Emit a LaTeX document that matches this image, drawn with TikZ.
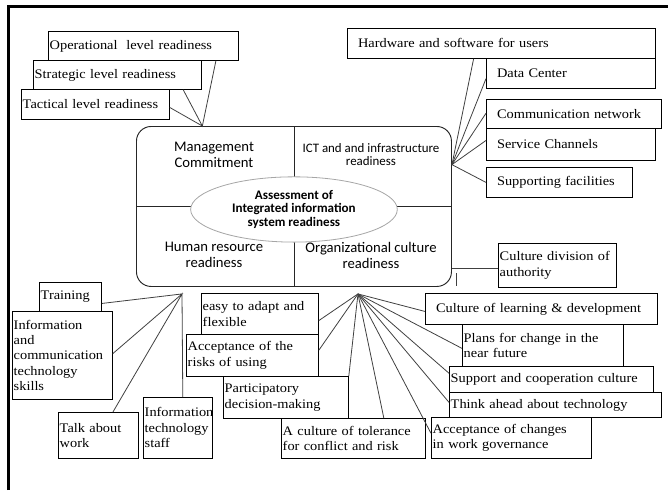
\documentclass[tikz,border=0pt]{standalone}
\usepackage{fontspec}
\setmainfont{Liberation Serif}[FakeStretch=1.1]
\newfontfamily\calibri{Carlito}
\usetikzlibrary{calc}
\usetikzlibrary{shapes.geometric}

\begin{document}
\begin{tikzpicture}[
		x=0.75pt, y=-0.75pt,
		leaf/.style={
			draw=black, fill=white, line width=0.6pt,
			anchor=north west, inner xsep=1pt, inner ysep=1pt,
			align=left, font=\fontsize{9.8}{11.6}\selectfont
			},
		leafpad/.style={leaf, inner xsep=8pt},
		link/.style={line width=0.6pt, color=black!75},
		quad/.style={align=center, font=\calibri\fontsize{11}{12}\selectfont},
		frame/.style={line width=2.25pt, color=black}
		]

		\useasboundingbox (0,0) rectangle (668,490);
		\draw[frame] (8,490) -- (8,6.5) -- (668,6.5);

		% central block
		\node[draw=black!85, line width=0.7pt, rounded corners=11pt, anchor=north west,
			minimum width=236.25pt, minimum height=120pt] (big) at (136,126) {};
		\draw[line width=0.6pt, black!85] (big.north) -- (big.south) (big.west) -- (big.east);
		\node[draw=black!35, fill=white, ellipse, line width=0.6pt, minimum width=155pt, minimum height=41pt,
			align=center, font=\calibri\bfseries\fontsize{9.8}{9.8}\selectfont] (core) at ($(big.center)+(0,3)$)
			{Assessment of\\Integrated information\\system readiness};
		\node[quad] (mgmt) at ($(big.north west)+(78,29)$) {Management\\Commitment};
		\node[quad, font=\calibri\fontsize{9.7}{9.8}\selectfont] (ict) at ($(big.north west)+(235,29)$) {ICT and and infrastructure\\readiness};
		\node[quad] (hr) at ($(big.north west)+(78,129)$) {Human resource\\readiness};
		\node[quad] (org) at ($(big.north west)+(235,129)$) {Organizational culture\\readiness};

		% management levels
		\node[leaf, minimum width=142.5pt, minimum height=21.75pt, text width=140.5pt] (oper) at (48,31) {Operational~ level readiness};
		\node[leaf, minimum width=126pt, minimum height=21.75pt, text width=124pt] (strat) at (33,60) {Strategic level readiness};
		\node[leaf, minimum width=111pt, minimum height=22.5pt, text width=109pt] (tact) at (21,89) {Tactical level readiness};

		\coordinate (mgmthub) at ($(big.north west)!0.21!(big.north east)$);
		\draw[link] ($(oper.south west)!0.88!(oper.south east)$) -- (mgmthub) -- ($(strat.south west)!0.89!(strat.south east)$);
		\draw[link] ($(tact.north east)!0.6!(tact.south east)$) -- (mgmthub);

		% ict
		\node[leafpad, minimum width=231pt, minimum height=22.5pt, text width=215pt] (hw) at (347,28) {Hardware and software for users};
		\node[leafpad, minimum width=126.75pt, minimum height=22.5pt, text width=110.75pt] (dc) at (486,58) {Data Center};
		\node[leafpad, minimum width=131.25pt, minimum height=21.75pt, text width=115.25pt] (comm) at (486,99) {Communication network};
		\node[leafpad, minimum width=126.75pt, minimum height=24pt, text width=110.75pt] (serv) at (486,128) {Service Channels};
		\node[leafpad, minimum width=109.5pt, minimum height=22.5pt, text width=93.5pt] (supp) at (486,167) {Supporting facilities};

		\coordinate (icthub) at ($(big.north east)!0.24!(big.south east)$);
		\draw[link] ($(hw.south west)!0.41!(hw.south east)$) -- (icthub);
		\foreach \n/\f in {dc/0.67, comm/0.48, serv/0.38, supp/0.5}
			\draw[link] ($(\n.north west)!\f!(\n.south west)$) -- (icthub);

		% organizational culture
		\node[leaf, minimum width=88.5pt, minimum height=33pt, text width=86.5pt] (cda) at (498,243) {Culture division of\\authority};
		\coordinate (cdaend) at ($(cda.north west)!0.57!(cda.south west)$);
		\draw[link] (cdaend) -- (cdaend -| big.east);
		\draw[link] ($(big.south east)+(4,-1)$) -- ($(big.south east)+(4,-14)$);

		\node[leafpad, minimum width=174pt, minimum height=23.25pt, text width=158pt] (learn) at (425,293) {Culture of learning \& development};
		\node[leaf, minimum width=120.75pt, minimum height=31.5pt, text width=118.75pt] (plans) at (462,324) {Plans for change in the\\near future};
		\node[leaf, minimum width=153pt, minimum height=19.5pt, text width=151pt] (supco) at (449,366) {Support and cooperation culture};
		\node[leaf, minimum width=159pt, minimum height=18.75pt, text width=157pt] (think) at (449,392) {Think ahead about technology};
		\node[leaf, minimum width=120pt, minimum height=30.75pt, text width=118pt] (accch) at (431,417) {Acceptance of changes\\in work governance};
		\node[leaf, minimum width=108pt, minimum height=30pt, text width=106pt] (toler) at (281,418) {A culture of tolerance\\for conflict and risk};
		\node[leaf, minimum width=93.75pt, minimum height=31.5pt, text width=91.75pt] (partic) at (223,376) {Participatory\\decision-making};
		\node[leaf, minimum width=99pt, minimum height=31.5pt, text width=97pt] (risks) at (186,334) {Acceptance of the\\risks of using};
		\node[leaf, minimum width=87.75pt, minimum height=30.75pt, text width=85.75pt] (easy) at (201,293) {easy to adapt and\\flexible};

		\coordinate (orghub) at ($(big.south)+(64,7)$);
		\foreach \n/\f in {learn/0.58, plans/0.57, supco/0.27, think/0.4, accch/0.39}
			\draw[link] (orghub) -- ($(\n.north west)!\f!(\n.south west)$);
		\foreach \n/\f in {easy/0.66, risks/0.38}
			\draw[link] (orghub) -- ($(\n.north east)!\f!(\n.south east)$);
		\draw[link] (orghub) -- ($(toler.north west)!0.71!(toler.north east)$);
		\draw[link] (orghub) -- (partic.north east);

		% human resource
		\node[leaf, minimum width=46.5pt, minimum height=21.75pt, text width=44.5pt] (train) at (39,282) {Training};
		\node[leaf, minimum width=75pt, minimum height=66pt, text width=73pt] (icts) at (12,311) {Information\\and\\communication\\technology\\skills};
		\node[leaf, minimum width=60pt, minimum height=34.5pt, text width=58pt] (talk) at (58,412) {Talk about\\work};
		\node[leaf, minimum width=51.75pt, minimum height=45.75pt, text width=49.75pt] (itstaff) at (143,397) {Information\\technology\\staff};

		\coordinate (hrhub) at ($(big.south west)+(46,7)$);
		\draw[link] ($(train.north east)!0.72!(train.south east)$) -- (hrhub) -- ($(icts.north east)!0.48!(icts.south east)$);
		\draw[link] ($(talk.north west)!0.68!(talk.north east)$) -- (hrhub) -- ($(itstaff.north west)!0.57!(itstaff.north east)$);

	\end{tikzpicture}
\end{document}
